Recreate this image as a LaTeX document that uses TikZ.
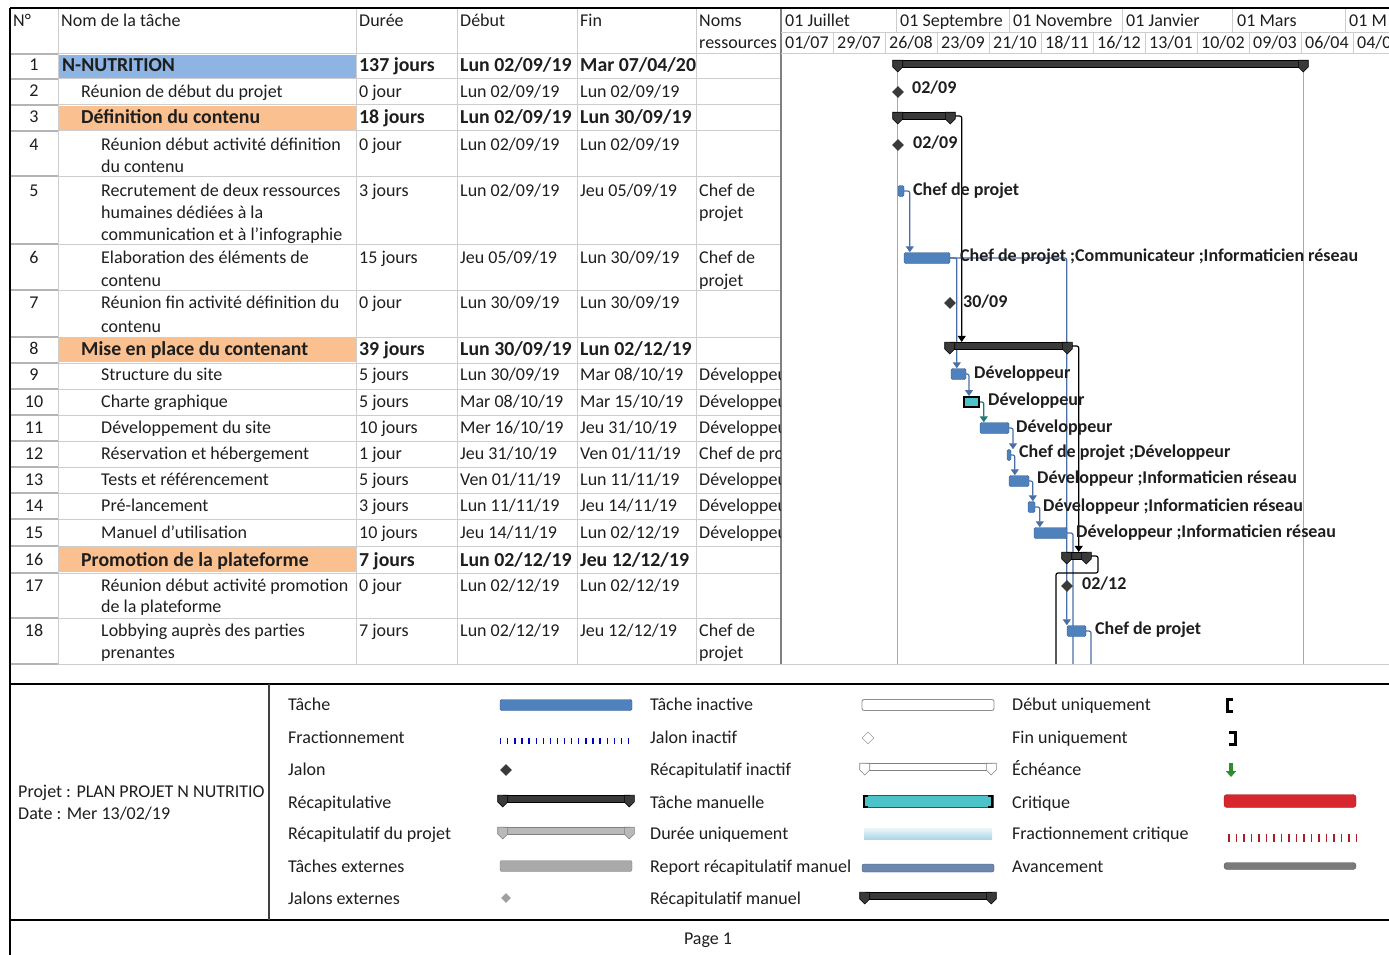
\documentclass[tikz,border=0pt]{standalone}
\usepackage{fontspec}
\setmainfont{Carlito}
\usetikzlibrary{arrows.meta,shapes.geometric,positioning}

\definecolor{txt}{HTML}{1E1E1E}
\definecolor{gridgray}{HTML}{CDCDCD}
\definecolor{numgray}{HTML}{B4B4B4}
\definecolor{hlblue}{HTML}{8DB4E2}
\definecolor{hlorange}{HTML}{FAC08F}
\definecolor{taskblue}{HTML}{4F81BD}
\definecolor{taskedge}{HTML}{3A5F8F}
\definecolor{sumdark}{HTML}{3A3A3A}
\definecolor{linkblue}{HTML}{4A6FA5}
\definecolor{linkteal}{HTML}{1F7A7A}
\definecolor{manteal}{HTML}{4BC3C9}
\definecolor{projgray}{HTML}{A8A8A8}
\definecolor{critred}{HTML}{D7262E}
\definecolor{extgray}{HTML}{A9A9A9}
\definecolor{durblue}{HTML}{A9D6E6}
\definecolor{repblue}{HTML}{6C86AE}
\definecolor{progray}{HTML}{7A7A7A}
\definecolor{deadgreen}{HTML}{2E8B2E}

\pgfdeclarelayer{back}
\pgfsetlayers{back,main}

\newcommand\tabfont{\fontsize{18}{21}\selectfont}
\newcommand\sumfont{\fontsize{19.8}{22}\selectfont\bfseries}
\newcommand\barfont{\fontsize{18}{21}\selectfont\bfseries}

\tikzset{
  cell/.style={anchor=base west,inner sep=0pt,font=\tabfont,text=txt},
  cellb/.style={cell,font=\sumfont},
  numcell/.style={anchor=base,inner sep=0pt,font=\tabfont,text=txt},
  barlab/.style={anchor=base west,inner sep=0pt,font=\barfont,text=txt},
  tabline/.style={draw=gridgray,line width=1pt},
  taskbar/.style={rectangle,fill=taskblue,draw=taskedge,rounded corners=1.5pt,minimum height=11pt,inner sep=0pt},
  manbar/.style={rectangle,fill=manteal,draw=black,line width=2pt,minimum height=10pt,inner sep=0pt},
  sumbar/.style={rectangle,fill=sumdark,draw=black,line width=.6pt,minimum height=7.5pt,inner sep=0pt},
  jalon/.style={diamond,fill=sumdark,minimum size=12pt,inner sep=0pt},
  linkline/.style={draw=linkblue,line width=1.2pt,rounded corners=2pt},
  link/.style={linkline,-{Triangle[width=8pt,length=6pt]}},
  sumline/.style={linkline,draw=black},
  sumlink/.style={link,draw=black},
  projline/.style={draw=projgray,line width=1.2pt},
  sumcap/.pic={\path[pic actions] (-5,-3.75) -- (5,-3.75) -- (5,3) -- (0,8) -- (-5,3) -- cycle;}
}

\begin{document}
\begin{tikzpicture}[x=1pt,y=-1pt]
\useasboundingbox (0,0) rectangle (1389,955);

% fonds des lignes recapitulatives
\fill[hlblue] (59,55) rectangle (356,78);
\foreach \ya/\yb in {106/130,338/362,547/572}
  \fill[hlorange] (59,\ya) rectangle (356,\yb);

% grille du tableau
\foreach \y in {54,79,105,131,176,244,290,337,363,389,415,441,467,493,519,546,573,618,664}{
  \draw[tabline] (58,\y) -- (781,\y);
  \draw[numgray,line width=2pt] (10,\y) -- (58,\y);}
\foreach \x in {58,356,457,577,696}
  \draw[tabline] (\x,8) -- (\x,664);
\draw[gray,line width=1.2pt] (781,8) -- (781,664);
\draw[tabline] (781,54) -- (1389,54);
\draw[tabline] (781,33) -- (1389,33);
\draw[tabline] (781,664) -- (1389,664);
\foreach \x in {896,1009,1122,1232,1345}
  \draw[tabline] (\x,8) -- (\x,33);
\foreach \x in {833,885,937,989,1041,1093,1145,1197,1249,1301,1353}
  \draw[tabline] (\x,33) -- (\x,54);

% cadre
\draw[black,line width=1.8pt] (10,8) -- (1389,8);
\draw[black,line width=1.8pt] (10,8) -- (10,955);
\draw[black,line width=1.6pt] (10,684) -- (1389,684);
\draw[black,line width=1.6pt] (10,920) -- (1389,920);
\draw[darkgray,line width=1.2pt] (269,684) -- (269,920);

% en-tetes
\path
  (13,27) node[cell] (hNo) {N°}
  (61,27) node[cell] (hNom) {Nom de la tâche}
  (359,27) node[cell] (hDur) {Durée}
  (460,27) node[cell] (hDeb) {Début}
  (580,27) node[cell] (hFin) {Fin}
  (699,27) node[cell] (hRes) {Noms}
  (699,49) node[cell] (hRes2) {ressources};
\path
  (785,27) node[cell] (mJul) {01 Juillet}
  (900,27) node[cell] (mSep) {01 Septembre}
  (1013,27) node[cell] (mNov) {01 Novembre}
  (1126,27) node[cell] (mJan) {01 Janvier}
  (1237,27) node[cell] (mMar) {01 Mars}
  (1349,27) node[cell] (mMai) {01 M};
\foreach \dd/\mm [count=\k from 0] in {01/07,29/07,26/08,23/09,21/10,18/11,16/12,13/01,10/02,09/03,06/04}
  \node[cell] (wk\k) at (785+52*\k,49) {\dd/\mm};
\node[cell] (wk11) at (1357,49) {04/0};

% numeros
\foreach \i/\y in {1/71,2/97,3/123,4/150,5/196,6/263,7/308,8/354,9/380,10/407,11/433,12/459,13/485,14/511,15/538,16/565,17/591,18/636}
  \node[numcell] (no\i) at (34,\y) {\i};

% noms des taches
\path
  (62,72) node[cellb] (t1) {N-NUTRITION}
  (81,98) node[cell] (t2) {Réunion de début du projet}
  (81,124) node[cellb] (t3) {Définition du contenu}
  (101,150) node[cell] (t4a) {Réunion début activité définition}
  (101,172) node[cell] (t4b) {du contenu}
  (101,196) node[cell] (t5a) {Recrutement de deux ressources}
  (101,218) node[cell] (t5b) {humaines dédiées à la}
  (101,240) node[cell] (t5c) {communication et à l’infographie}
  (101,263) node[cell] (t6a) {Elaboration des éléments de}
  (101,286) node[cell] (t6b) {contenu}
  (101,308) node[cell] (t7a) {Réunion fin activité définition du}
  (101,332) node[cell] (t7b) {contenu}
  (81,355) node[cellb] (t8) {Mise en place du contenant}
  (101,380) node[cell] (t9) {Structure du site}
  (101,407) node[cell] (t10) {Charte graphique}
  (101,433) node[cell] (t11) {Développement du site}
  (101,459) node[cell] (t12) {Réservation et hébergement}
  (101,485) node[cell] (t13) {Tests et référencement}
  (101,511) node[cell] (t14) {Pré-lancement}
  (101,538) node[cell] (t15) {Manuel d’utilisation}
  (81,566) node[cellb] (t16) {Promotion de la plateforme}
  (101,591) node[cell] (t17a) {Réunion début activité promotion}
  (101,612) node[cell] (t17b) {de la plateforme}
  (101,636) node[cell] (t18a) {Lobbying auprès des parties}
  (101,658) node[cell] (t18b) {prenantes};

% durees
\path
  (359,72) node[cellb] (du1) {137 jours}
  (359,98) node[cell] (du2) {0 jour}
  (359,124) node[cellb] (du3) {18 jours}
  (359,150) node[cell] (du4) {0 jour}
  (359,196) node[cell] (du5) {3 jours}
  (359,263) node[cell] (du6) {15 jours}
  (359,308) node[cell] (du7) {0 jour}
  (359,355) node[cellb] (du8) {39 jours}
  (359,380) node[cell] (du9) {5 jours}
  (359,407) node[cell] (du10) {5 jours}
  (359,433) node[cell] (du11) {10 jours}
  (359,459) node[cell] (du12) {1 jour}
  (359,485) node[cell] (du13) {5 jours}
  (359,511) node[cell] (du14) {3 jours}
  (359,538) node[cell] (du15) {10 jours}
  (359,566) node[cellb] (du16) {7 jours}
  (359,591) node[cell] (du17) {0 jour}
  (359,636) node[cell] (du18) {7 jours};

% debuts
\path
  (460,72) node[cellb] (de1) {Lun 02/09/19}
  (460,98) node[cell] (de2) {Lun 02/09/19}
  (460,124) node[cellb] (de3) {Lun 02/09/19}
  (460,150) node[cell] (de4) {Lun 02/09/19}
  (460,196) node[cell] (de5) {Lun 02/09/19}
  (460,263) node[cell] (de6) {Jeu 05/09/19}
  (460,308) node[cell] (de7) {Lun 30/09/19}
  (460,355) node[cellb] (de8) {Lun 30/09/19}
  (460,380) node[cell] (de9) {Lun 30/09/19}
  (460,407) node[cell] (de10) {Mar 08/10/19}
  (460,433) node[cell] (de11) {Mer 16/10/19}
  (460,459) node[cell] (de12) {Jeu 31/10/19}
  (460,485) node[cell] (de13) {Ven 01/11/19}
  (460,511) node[cell] (de14) {Lun 11/11/19}
  (460,538) node[cell] (de15) {Jeu 14/11/19}
  (460,566) node[cellb] (de16) {Lun 02/12/19}
  (460,591) node[cell] (de17) {Lun 02/12/19}
  (460,636) node[cell] (de18) {Lun 02/12/19};

% fins
\path
  (580,72) node[cellb] (fi1) {Mar 07/04/20}
  (580,98) node[cell] (fi2) {Lun 02/09/19}
  (580,124) node[cellb] (fi3) {Lun 30/09/19}
  (580,150) node[cell] (fi4) {Lun 02/09/19}
  (580,196) node[cell] (fi5) {Jeu 05/09/19}
  (580,263) node[cell] (fi6) {Lun 30/09/19}
  (580,308) node[cell] (fi7) {Lun 30/09/19}
  (580,355) node[cellb] (fi8) {Lun 02/12/19}
  (580,380) node[cell] (fi9) {Mar 08/10/19}
  (580,407) node[cell] (fi10) {Mar 15/10/19}
  (580,433) node[cell] (fi11) {Jeu 31/10/19}
  (580,459) node[cell] (fi12) {Ven 01/11/19}
  (580,485) node[cell] (fi13) {Lun 11/11/19}
  (580,511) node[cell] (fi14) {Jeu 14/11/19}
  (580,538) node[cell] (fi15) {Lun 02/12/19}
  (580,566) node[cellb] (fi16) {Jeu 12/12/19}
  (580,591) node[cell] (fi17) {Lun 02/12/19}
  (580,636) node[cell] (fi18) {Jeu 12/12/19};

% ressources
\begin{scope}
\clip (697,55) rectangle (780,663);
\path
  (699,196) node[cell] (re5a) {Chef de}
  (699,218) node[cell] (re5b) {projet}
  (699,263) node[cell] (re6a) {Chef de}
  (699,286) node[cell] (re6b) {projet}
  (699,380) node[cell] (re9) {Développeur}
  (699,407) node[cell] (re10) {Développeur}
  (699,433) node[cell] (re11) {Développeur}
  (699,459) node[cell] (re12) {Chef de projet}
  (699,485) node[cell] (re13) {Développeur}
  (699,511) node[cell] (re14) {Développeur}
  (699,538) node[cell] (re15) {Développeur}
  (699,636) node[cell] (re18a) {Chef de}
  (699,658) node[cell] (re18b) {projet};
\end{scope}

% barres du diagramme
\node[sumbar,minimum width=405pt] (sum1) at (1100.5,64) {};
\node[sumbar,minimum width=52pt] (sum3) at (924,116) {};
\node[sumbar,minimum width=117pt] (sum8) at (1008.5,346) {};
\node[sumbar,minimum width=19pt] (sum16) at (1076.5,556) {};
\foreach \s in {sum1,sum3,sum8,sum16}{
  \pic[fill=sumdark,draw=black,line width=.6pt] at (\s.west) {sumcap};
  \pic[fill=sumdark,draw=black,line width=.6pt] at (\s.east) {sumcap};}
\node[jalon] (m2) at (898,92) {};
\node[jalon] (m4) at (898,145) {};
\node[jalon] (m7) at (950,303) {};
\node[jalon] (m17) at (1067,586) {};
\node[taskbar,minimum width=6pt] (bar5) at (901,191) {};
\node[taskbar,minimum width=46pt] (bar6) at (927,258) {};
\node[taskbar,minimum width=15pt] (bar9) at (958.5,374) {};
\node[manbar,minimum width=15pt] (bar10) at (971.5,402) {};
\node[taskbar,minimum width=29pt] (bar11) at (994.5,428) {};
\node[taskbar,minimum width=4pt] (bar12) at (1009,455) {};
\node[taskbar,minimum width=20pt] (bar13) at (1019,481) {};
\node[taskbar,minimum width=7pt] (bar14) at (1031.5,507) {};
\node[taskbar,minimum width=33pt] (bar15) at (1050.5,533) {};
\node[taskbar,minimum width=19pt] (bar18) at (1076.5,631) {};

% liaisons
\coordinate (end15) at (1073,664);
\coordinate (turn16) at (1098,573);
\coordinate (end16) at (1056,664);
\coordinate (end18) at (1091,664);
\begin{pgfonlayer}{back}
\draw[projline] (sum1.west) -- (sum1.west |- end15);
\draw[projline] (sum1.east) -- (sum1.east |- end15);
\draw[sumlink] (sum3.east) -| ([xshift=12pt]sum8.north west);
\draw[sumlink] (sum8.east) -| ([xshift=12pt]sum16.north west);
\draw[link] (bar5.east) -| ([xshift=6pt]bar6.north west);
\draw[link] (bar6.east) -| ([xshift=6pt]bar9.north west);
\draw[link] (bar6.east) -| (bar18.north west);
\draw[link] (bar9.east) -| ([xshift=6pt]bar10.north west);
\draw[link,draw=linkteal] (bar10.east) -| ([xshift=4pt]bar11.north west);
\draw[link] (bar11.east) -| ([xshift=4pt]bar12.north);
\draw[link] (bar12.east) -| ([xshift=6pt]bar13.north west);
\draw[link] (bar13.east) -| ([xshift=5pt]bar14.north west);
\draw[link] (bar14.east) -| ([xshift=6pt]bar15.north west);
\draw[linkline] (bar15.east) -| (end15);
\draw[sumline] (sum16.east) -| (turn16) -| (end16);
\draw[linkline] (bar18.east) -| (end18);
\end{pgfonlayer}

% etiquettes des barres
\path
  (912,94) node[barlab] (lb2) {02/09}
  (913,148) node[barlab] (lb4) {02/09}
  (913,195) node[barlab] (lb5) {Chef de projet}
  (960,261) node[barlab] (lb6) {Chef de projet ;Communicateur ;Informaticien réseau}
  (963,307) node[barlab] (lb7) {30/09}
  (974,378) node[barlab] (lb9) {Développeur}
  (988,405) node[barlab] (lb10) {Développeur}
  (1016,432) node[barlab] (lb11) {Développeur}
  (1019,457) node[barlab] (lb12) {Chef de projet ;Développeur}
  (1037,483) node[barlab] (lb13) {Développeur ;Informaticien réseau}
  (1043,511) node[barlab] (lb14) {Développeur ;Informaticien réseau}
  (1076,537) node[barlab] (lb15) {Développeur ;Informaticien réseau}
  (1082,589) node[barlab] (lb17) {02/12}
  (1095,634) node[barlab] (lb18) {Chef de projet};

% legende
\path
  (18,797) node[cell] (proj) {Projet : PLAN PROJET N NUTRITIO}
  (18,819) node[cell] (date) {Date : Mer 13/02/19};
\path
  (288,710) node[cell] (lgA1) {Tâche}
  (288,743) node[cell] (lgA2) {Fractionnement}
  (288,775) node[cell] (lgA3) {Jalon}
  (288,808) node[cell] (lgA4) {Récapitulative}
  (288,839) node[cell] (lgA5) {Récapitulatif du projet}
  (288,872) node[cell] (lgA6) {Tâches externes}
  (288,904) node[cell] (lgA7) {Jalons externes};
\path
  (650,710) node[cell] (lgB1) {Tâche inactive}
  (650,743) node[cell] (lgB2) {Jalon inactif}
  (650,775) node[cell] (lgB3) {Récapitulatif inactif}
  (650,808) node[cell] (lgB4) {Tâche manuelle}
  (650,839) node[cell] (lgB5) {Durée uniquement}
  (650,872) node[cell] (lgB6) {Report récapitulatif manuel}
  (650,904) node[cell] (lgB7) {Récapitulatif manuel};
\path
  (1012,710) node[cell] (lgC1) {Début uniquement}
  (1012,743) node[cell] (lgC2) {Fin uniquement}
  (1012,775) node[cell] (lgC3) {Échéance}
  (1012,808) node[cell] (lgC4) {Critique}
  (1012,839) node[cell] (lgC5) {Fractionnement critique}
  (1012,872) node[cell] (lgC6) {Avancement};

% symboles de la legende
\node[taskbar,minimum width=132pt] (sA1) at (566,705) {};
\draw[blue!75!black,line width=6pt,dash pattern=on 1.3pt off 5.8pt] (500,741) -- (632,741);
\node[jalon] (sA3) at (506,770) {};
\node[sumbar,minimum width=126pt] (sA4) at (566,799) {};
\node[sumbar,fill=gray!55,draw=gray,minimum width=126pt] (sA5) at (566,831) {};
\node[rectangle,fill=extgray,draw=gray,rounded corners=2pt,minimum width=132pt,minimum height=11pt,inner sep=0pt] (sA6) at (566,866) {};
\node[jalon,fill=gray!75,minimum size=10pt] (sA7) at (506,898) {};
\node[rectangle,fill=white,draw=gray!90,line width=.8pt,rounded corners=2pt,minimum width=132pt,minimum height=11pt,inner sep=0pt] (sB1) at (928,705) {};
\node[diamond,fill=white,draw=gray,minimum size=12pt,inner sep=0pt] (sB2) at (868,738) {};
\node[sumbar,fill=white,draw=gray,minimum width=126pt] (sB3) at (928,767) {};
\node[rectangle,fill=manteal,draw=black!70,minimum width=130pt,minimum height=12pt,inner sep=0pt] (sB4) at (928,801) {};
\draw[line width=2.5pt] (868,796) -- (864,796) -- (864,807) -- (868,807);
\draw[line width=2.5pt] (988,796) -- (992,796) -- (992,807) -- (988,807);
\node[rectangle,top color=durblue!25,bottom color=durblue,minimum width=128pt,minimum height=11pt,inner sep=0pt] (sB5) at (928,834) {};
\node[rectangle,fill=repblue,draw=repblue!70!black,rounded corners=2pt,minimum width=132pt,minimum height=8pt,inner sep=0pt] (sB6) at (928,868) {};
\node[sumbar,minimum width=126pt] (sB7) at (928,896) {};
\pic[fill=sumdark,draw=black,line width=.6pt] at (sA4.west) {sumcap};
\pic[fill=sumdark,draw=black,line width=.6pt] at (sA4.east) {sumcap};
\pic[fill=gray!55,draw=gray,line width=.6pt] at (sA5.west) {sumcap};
\pic[fill=gray!55,draw=gray,line width=.6pt] at (sA5.east) {sumcap};
\pic[fill=white,draw=gray,line width=.6pt] at (sB3.west) {sumcap};
\pic[fill=white,draw=gray,line width=.6pt] at (sB3.east) {sumcap};
\pic[fill=sumdark,draw=black,line width=.6pt] at (sB7.west) {sumcap};
\pic[fill=sumdark,draw=black,line width=.6pt] at (sB7.east) {sumcap};
\draw[line width=3pt] (1233,699) -- (1227,699) -- (1227,711) -- (1233,711);
\draw[line width=3pt] (1229,732) -- (1235,732) -- (1235,744) -- (1229,744);
\draw[deadgreen,line width=3.5pt,-{Triangle[width=10pt,length=6pt]}] (1231,763) -- (1231,777);
\node[rectangle,fill=critred,draw=critred!70!black,rounded corners=3pt,minimum width=132pt,minimum height=13pt,inner sep=0pt] (sC4) at (1290,801) {};
\draw[critred!80!black,line width=8pt,dash pattern=on 1.5pt off 6pt] (1228,838) -- (1356,838);
\node[rectangle,fill=progray,draw=progray!70!black,rounded corners=3pt,minimum width=132pt,minimum height=7pt,inner sep=0pt] (sC6) at (1290,866) {};

\node[numcell] (page) at (708,944) {Page 1};
\end{tikzpicture}
\end{document}
